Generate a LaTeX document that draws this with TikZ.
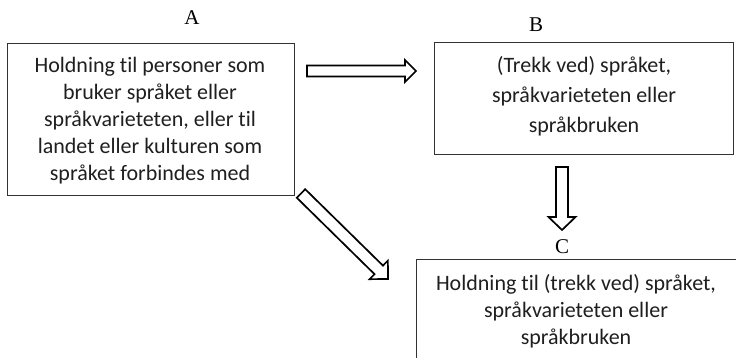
\documentclass[tikz,border=0pt]{standalone}
\usepackage{fontspec}
\setmainfont[Ligatures=NoCommon]{Carlito}
\newfontfamily\labelfont{Liberation Serif}
\begin{document}
\begin{tikzpicture}[x=1pt,y=-1pt,
  box/.style={draw=black!80, line width=1pt, inner sep=0pt, anchor=north west},
  boxtext/.style={align=center, text=black!88, font=\fontsize{22}{27}\selectfont, inner sep=0pt},
  lbl/.style={font=\labelfont\fontsize{21}{22}\selectfont, inner sep=0pt},
  blockarrow/.style={draw=black, line width=1.7pt, fill=white, line join=miter}]
\useasboundingbox (0,0) rectangle (736,358);
\clip (0,0) rectangle (736,358);
\fill[white] (0,0) rectangle (736,358);

% labels
\node[lbl] (la) at (192,18) {A};
\node[lbl] (lb) at (536,25) {B};
\node[lbl] (lc) at (562,247) {C};

% boxes
\node[box, minimum width=287, minimum height=152] (A) at (7,43) {};
\node[box, minimum width=299, minimum height=112] (B) at (434,42) {};
\node[box, minimum width=330, minimum height=115] (C) at (416,259) {};

% texts
\node[boxtext] (ta) at (150,120.5) {Holdning til personer som\\bruker språket eller\\språkvarieteten, eller til\\landet eller kulturen som\\språket forbindes med};
\node[boxtext, font=\fontsize{22}{30}\selectfont] (tb) at (584,96) {(Trekk ved) språket,\\språkvarieteten eller\\språkbruken};
\node[boxtext] (tc) at (576,311) {Holdning til (trekk ved) språket,\\språkvarieteten eller\\språkbruken};

% block arrows
\coordinate (h1) at (307,71);
\coordinate (h2) at (416,71);
\draw[blockarrow] (h1) ++(0,-5.5) -- ++(98,0) -- ++(0,-5.5) -- (h2) -- ++(-11,11) -- ++(0,-5.5) -- ++(-98,0) -- cycle;

\coordinate (v1) at (562,167);
\coordinate (v2) at (562,230);
\draw[blockarrow] (v1) ++(-6,0) -- ++(0,50) -- ++(-7.5,0) -- (v2) -- ++(13.5,-13) -- ++(-7.5,0) -- ++(0,-50) -- cycle;

\coordinate (d1) at (301,193.5);
\coordinate (d2) at (388,279);
\begin{scope}[shift={(d1)}, rotate=-44.5]
\draw[blockarrow] (0,-6) -- (109,-6) -- (109,-13) -- (122,0) -- (109,13) -- (109,6) -- (0,6) -- cycle;
\end{scope}
\end{tikzpicture}
\end{document}
